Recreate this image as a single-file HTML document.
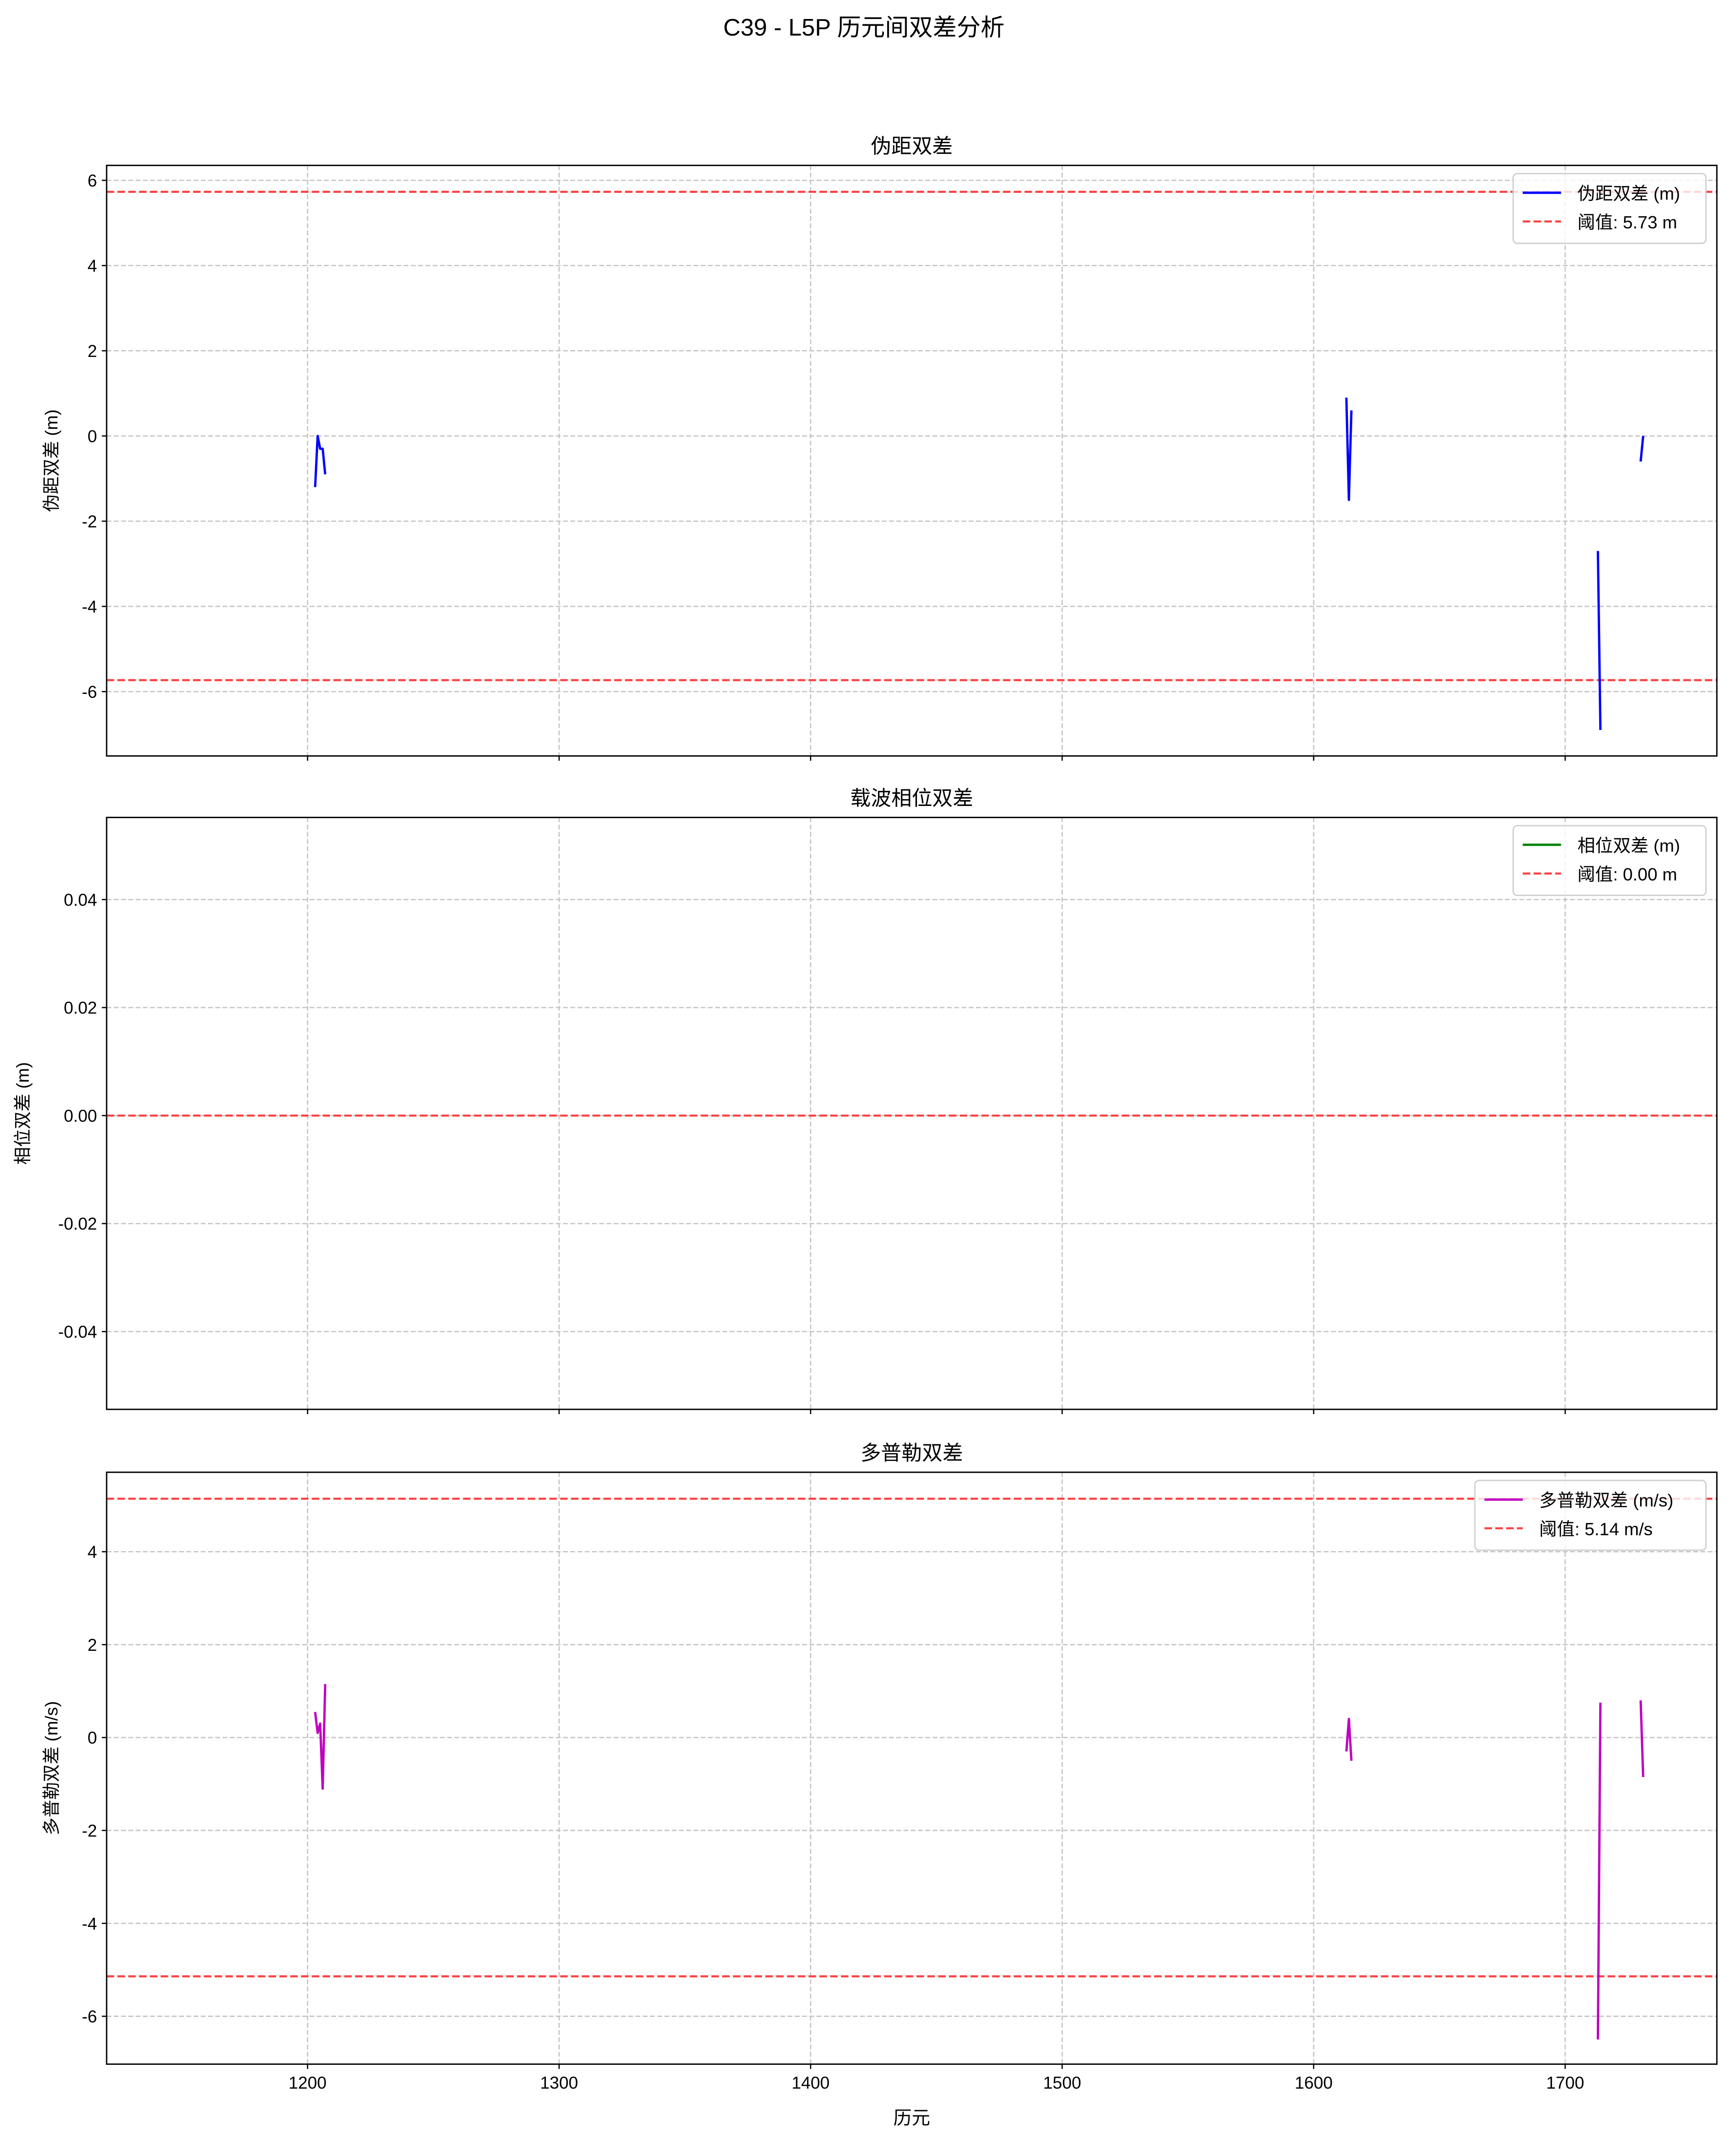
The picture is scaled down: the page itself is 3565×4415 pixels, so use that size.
<!DOCTYPE html>
<html><head><meta charset="utf-8"><style>
html,body{margin:0;padding:0;background:#fff}
svg{display:block}
text{font-family:"Liberation Sans","Noto Sans CJK SC",sans-serif;fill:#000}
</style></head><body>
<svg id="fig" xmlns="http://www.w3.org/2000/svg" width="3565" height="4415" viewBox="0 0 1270 1572.8">
<rect width="1270" height="1572.8" fill="#fff"/>
<text x="632" y="26" font-size="17.5" text-anchor="middle">C39 - L5P 历元间双差分析</text>
<text x="667" y="1554" font-size="13.5" text-anchor="middle">历元</text>
</svg>
<script>
const epochs = [1203,1204,1205,1206,1207,null,1613,1614,1615,null,1713,1714,null,1730,1731];
const pseudorangeDD = [-1.2,0.0,-0.3,-0.3,-0.9,null,0.9,-1.5,0.6,null,-2.7,-6.9,null,-0.6,0.0];
const phaseDD = [];
const phaseEpochs = [];
const dopplerDD = [0.55,0.1,0.3,-1.1,1.15,null,-0.3,0.4,-0.5,null,-6.5,0.75,null,0.8,-0.85];
const xTicks = [1200,1300,1400,1500,1600,1700];
const prTicks = [-6,-4,-2,0,2,4,6];
const phTicks = [-0.04,-0.02,0.00,0.02,0.04];
const dpTicks = [-6,-4,-2,0,2,4];
const prThreshold = 5.73, phThreshold = 0.00, dpThreshold = 5.14;

const NS = "http://www.w3.org/2000/svg";
const svg = document.getElementById('fig');
const L = 78, R = 1256, XMIN = 1120.1, XMAX = 1760.3;
function sx(v){ return L + (v - XMIN) / (XMAX - XMIN) * (R - L); }
function mk(tag, attrs, parent){
  const e = document.createElementNS(NS, tag);
  for (const k in attrs) e.setAttribute(k, attrs[k]);
  (parent || svg).appendChild(e);
  return e;
}
function panel(cfg){
  const g = mk('g', {});
  
  
  const T = cfg.top, B = cfg.bottom;
  const sy = v => T + (cfg.ymax - v) / (cfg.ymax - cfg.ymin) * (B - T);
  xTicks.forEach(t => {
    const l = mk('line', {x1:sx(t), x2:sx(t), y1:T, y2:B, stroke:'#c4c4c4', 'stroke-width':0.9, 'stroke-dasharray':'3.5,1.8'}, g);
    
    
    const tk = mk('line', {x1:sx(t), x2:sx(t), y1:B, y2:B+3.5, stroke:'#000', 'stroke-width':0.9}, g);
    
    
    if (cfg.xlabels) {
      const tx = mk('text', {x:sx(t), y:B+18, 'font-size':12.5, 'text-anchor':'middle'}, g);
      tx.textContent = t;
      
      
    }
  });
  cfg.ticks.forEach(t => {
    const y = sy(t);
    const l = mk('line', {x1:L, x2:R, y1:y, y2:y, stroke:'#c4c4c4', 'stroke-width':0.9, 'stroke-dasharray':'3.5,1.8'}, g);
    
    
    const tk = mk('line', {x1:L-3.5, x2:L, y1:y, y2:y, stroke:'#000', 'stroke-width':0.9}, g);
    
    
    const tx = mk('text', {x:L-7, y:y+4.5, 'font-size':12.5, 'text-anchor':'end'}, g);
    tx.textContent = cfg.fmt(t);
    
    
  });
  const ths = cfg.threshold === 0 ? [0] : [cfg.threshold, -cfg.threshold];
  ths.forEach(v => {
    const l = mk('line', {x1:L, x2:R, y1:sy(v), y2:sy(v), stroke:'#ff4040', 'stroke-width':1.5, 'stroke-dasharray':'5.5,2.4'}, g);
    
    
  });
  let d = '', pen = false;
  for (let i = 0; i < cfg.x.length; i++) {
    if (cfg.x[i] === null || cfg.y[i] === null || cfg.y[i] === undefined) { pen = false; continue; }
    d += (pen ? 'L' : 'M') + sx(cfg.x[i]).toFixed(2) + ',' + sy(cfg.y[i]).toFixed(2);
    pen = true;
  }
  if (d) {
    const p = mk('path', {d:d, fill:'none', stroke:cfg.color, 'stroke-width':1.7, 'stroke-linejoin':'round'}, g);
    
    
  }
  const fr = mk('rect', {x:L, y:T, width:R-L, height:B-T, fill:'none', stroke:'#000', 'stroke-width':1}, g);
  
  
  const ti = mk('text', {x:(L+R)/2, y:T-9, 'font-size':15, 'text-anchor':'middle'}, g);
  ti.textContent = cfg.title;
  
  
  const yl = mk('text', {x:0, y:0, 'font-size':13, 'text-anchor':'middle', transform:'translate('+cfg.ylx+','+((T+B)/2)+') rotate(-90)'}, g);
  yl.textContent = cfg.ylabel;
  
  
  const lx = cfg.legX, ly = T + 6, lw = R - 8 - lx, lh = 51;
  const lg = mk('g', {}, g);
  
  
  mk('rect', {x:lx, y:ly, width:lw, height:lh, rx:3, fill:'#fff', 'fill-opacity':0.8, stroke:'#d0d0d0', 'stroke-width':1}, lg);
  const l1 = mk('line', {x1:lx+7, x2:lx+35, y1:ly+14, y2:ly+14, stroke:cfg.color, 'stroke-width':1.7}, lg);
  
  
  const t1 = mk('text', {x:lx+47, y:ly+19, 'font-size':13}, lg);
  t1.textContent = cfg.legend1;
  
  
  const l2 = mk('line', {x1:lx+7, x2:lx+35, y1:ly+35, y2:ly+35, stroke:'#ff4040', 'stroke-width':1.5, 'stroke-dasharray':'5.5,2.4'}, lg);
  
  
  const t2 = mk('text', {x:lx+47, y:ly+40, 'font-size':13}, lg);
  t2.textContent = cfg.legend2;
  
  
}
panel({name:'pseudorange-panel', top:121, bottom:553, ymin:-7.51, ymax:6.35, ticks:prTicks, fmt:t=>String(t),
  x:epochs, y:pseudorangeDD, color:'#0000ff', seriesName:'pseudorange-line', threshold:prThreshold,
  title:'伪距双差', ylabel:'伪距双差 (m)', ylx:42, legX:1107, legend1:'伪距双差 (m)', legend2:'阈值: '+prThreshold.toFixed(2)+' m', xlabels:false});
panel({name:'phase-panel', top:598, bottom:1031, ymin:-0.0544, ymax:0.0552, ticks:phTicks, fmt:t=>t.toFixed(2),
  x:phaseEpochs, y:phaseDD, color:'#008000', seriesName:'phase-line', threshold:phThreshold,
  title:'载波相位双差', ylabel:'相位双差 (m)', ylx:21, legX:1107, legend1:'相位双差 (m)', legend2:'阈值: '+phThreshold.toFixed(2)+' m', xlabels:false});
panel({name:'doppler-panel', top:1077, bottom:1510, ymin:-7.03, ymax:5.71, ticks:dpTicks, fmt:t=>String(t),
  x:epochs, y:dopplerDD, color:'#bf00bf', seriesName:'doppler-line', threshold:dpThreshold,
  title:'多普勒双差', ylabel:'多普勒双差 (m/s)', ylx:42, legX:1079, legend1:'多普勒双差 (m/s)', legend2:'阈值: '+dpThreshold.toFixed(2)+' m/s', xlabels:true});
</script>
</body></html>
